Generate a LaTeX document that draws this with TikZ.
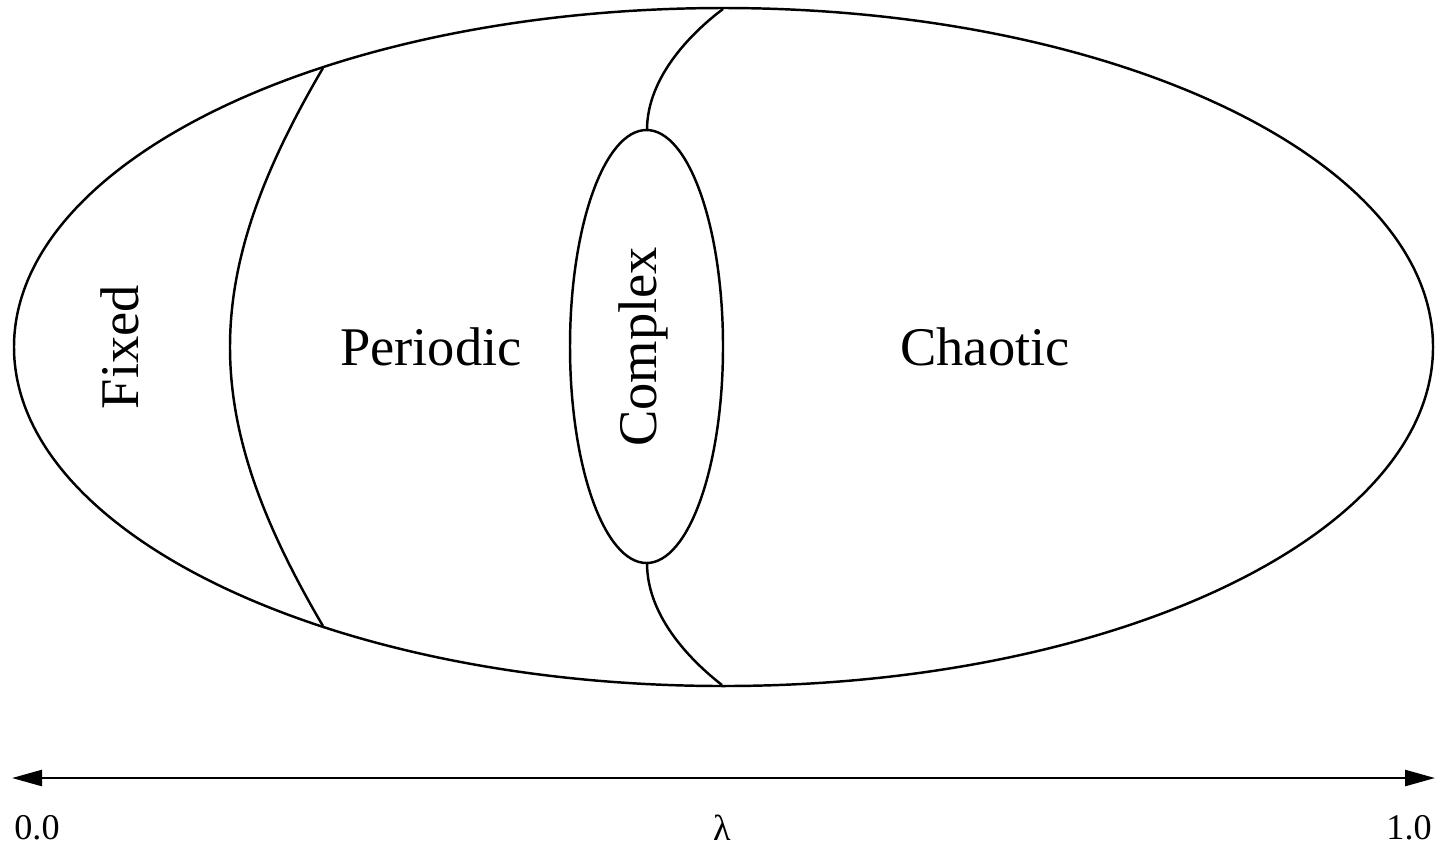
\documentclass[tikz,border=0pt]{standalone}
\usepackage{fontspec}
\setmainfont{Liberation Serif}
\usepackage{xcolor}
\usetikzlibrary{arrows.meta,positioning}
\definecolor{Ink}{HTML}{000000}
\tikzset{
  region/.style={draw=Ink,line width=0.7pt},
  label/.style={font=\fontsize{15.5}{18}\selectfont,text=Ink,inner sep=0pt},
  tick/.style={font=\fontsize{10.3}{12}\selectfont,text=Ink,inner sep=0pt},
  axis/.style={{Triangle[length=0.30cm,width=0.16cm]}-{Triangle[length=0.30cm,width=0.16cm]},draw=Ink,line width=0.7pt}
}
\begin{document}
\begin{tikzpicture}
  \useasboundingbox (0,0) rectangle (14.41,-8.45);
  % outer space of rules and the complex band
  \draw[region] (7.235,-3.47) ellipse[x radius=7.095,y radius=3.39];
  \draw[region] (6.465,-3.465) ellipse[x radius=0.765,y radius=2.165];
  \coordinate (fixtop) at (3.23,-0.68);
  \coordinate (fixbot) at (3.23,-6.26);
  \coordinate (cxtop) at (6.47,-1.30);
  \coordinate (cxbot) at (6.47,-5.63);
  \coordinate (edgetop) at (7.23,-0.09);
  \coordinate (edgebot) at (7.22,-6.85);
  \draw[region] (fixtop) .. controls (1.99,-2.79) and (1.99,-4.15) .. (fixbot);
  \draw[region] (edgetop) .. controls (6.95,-0.30) and (6.47,-0.75) .. (cxtop);
  \draw[region] (cxbot) .. controls (6.47,-6.19) and (6.95,-6.64) .. (edgebot);
  \node[label,rotate=90] (fixed) at (1.20,-3.47) {Fixed};
  \node[label] (periodic) at (4.31,-3.47) {Periodic};
  \node[label,rotate=90] (complex) at (6.43,-3.47) {Complex};
  \node[label] (chaotic) at (9.85,-3.47) {Chaotic};
  % lambda axis
  \coordinate (lo) at (0.12,-7.78);
  \coordinate (hi) at (14.35,-7.78);
  \draw[axis] (lo) -- (hi);
  \node[tick] (zero) at (0.37,-8.28) {0.0};
  \node[tick] (lambda) at (7.22,-8.28) {λ};
  \node[tick] (one) at (14.09,-8.28) {1.0};
\end{tikzpicture}
\end{document}
